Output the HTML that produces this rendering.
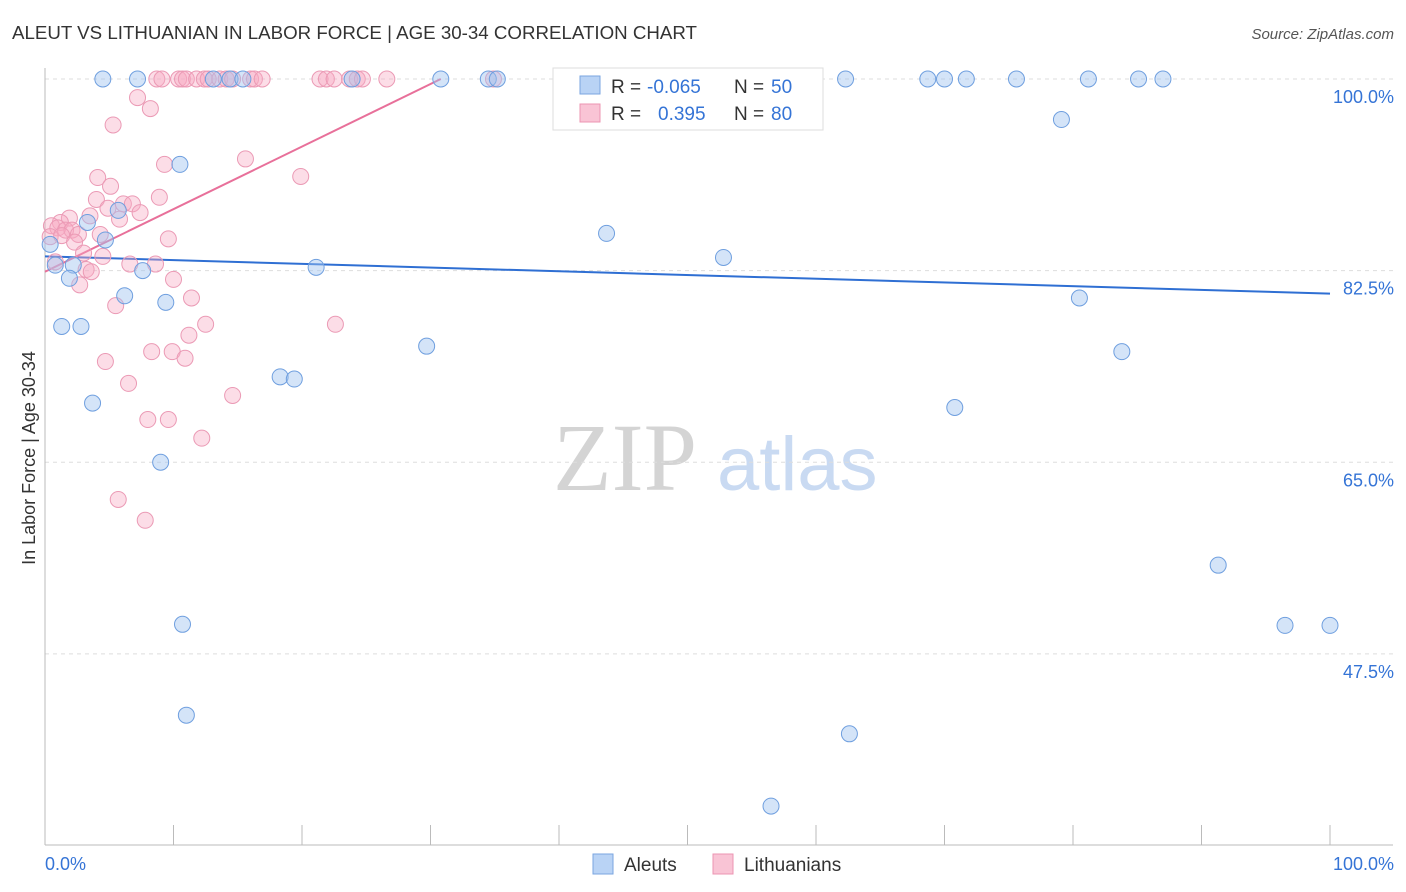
<!DOCTYPE html>
<html><head><meta charset="utf-8"><style>
body{margin:0;background:#fff;font-family:"Liberation Sans",sans-serif}
svg{display:block}
</style></head><body>
<svg id="chart" width="1406" height="892" font-family="Liberation Sans, sans-serif">
<text x="12" y="39" font-size="18" fill="#333" textLength="685" lengthAdjust="spacingAndGlyphs">ALEUT VS LITHUANIAN IN LABOR FORCE | AGE 30-34 CORRELATION CHART</text>
<text x="1394" y="39" font-size="15" fill="#555" text-anchor="end" font-style="italic">Source: ZipAtlas.com</text>
<g>
<text x="553" y="490" font-size="96" fill="#d4d4d4" font-family="Liberation Serif, serif">ZIP</text>
<text x="717" y="490" font-size="76" fill="#c9daf2">atlas</text>
</g>
<g id="grid"></g>
<g id="axes"></g>
<g id="trends"></g>
<g id="pts"></g>
<text x="35" y="458" font-size="18" fill="#333" text-anchor="middle" transform="rotate(-90 35 458)">In Labor Force | Age 30-34</text>
<g>
<rect x="553" y="68" width="270" height="62" fill="#fff" stroke="#ddd"/>
<rect x="580" y="76" width="20" height="18" fill="#b9d3f5" stroke="#7aa6e0"/>
<rect x="580" y="104" width="20" height="18" fill="#f9c4d5" stroke="#ec94b2"/>
<text x="611" y="93" font-size="19" fill="#333">R = <tspan fill="#3574d6" x="647">-0.065</tspan></text>
<text x="734" y="93" font-size="19" fill="#333">N = <tspan fill="#3574d6" x="771">50</tspan></text>
<text x="611" y="120" font-size="19" fill="#333">R = <tspan fill="#3574d6" x="658">0.395</tspan></text>
<text x="734" y="120" font-size="19" fill="#333">N = <tspan fill="#3574d6" x="771">80</tspan></text>
</g>
<g>
<rect x="593" y="854" width="20" height="20" fill="#b9d3f5" stroke="#7aa6e0"/>
<text x="624" y="871" font-size="19" fill="#333">Aleuts</text>
<rect x="713" y="854" width="20" height="20" fill="#f9c4d5" stroke="#ec94b2"/>
<text x="744" y="871" font-size="19" fill="#333">Lithuanians</text>
</g>
</svg>
<script>
const yTicks=[100,82.5,65,47.5];
const yTickLabels=["100.0%","82.5%","65.0%","47.5%"];
const xTickLabels=["0.0%","100.0%"];
const aleutX=[4.5,7.2,13.1,14.4,15.4,23.9,30.8,34.5,35.2,47.2,62.3,68.7,70.0,71.7,75.6,81.2,85.1,87.0,79.1,10.5,5.7,3.3,4.7,0.4,43.7,52.8,0.8,2.2,7.6,21.1,1.9,6.2,9.4,80.5,1.3,2.8,29.7,83.8,18.3,19.4,3.7,70.8,9.0,91.3,10.7,96.5,100,11.0,62.6,56.5];
const aleutY=[100,100,100,100,100,100,100,100,100,100,100,100,100,100,100,100,100,100,96.3,92.2,88.0,86.9,85.3,84.9,85.9,83.7,83.0,83.0,82.5,82.8,81.8,80.2,79.6,80.0,77.4,77.4,75.6,75.1,72.8,72.6,70.4,70.0,65.0,55.6,50.2,50.1,50.1,41.9,40.2,33.6];
const lithX=[8.7,9.1,10.4,10.7,11.0,11.8,12.4,12.7,13.6,14.1,14.6,16.0,16.3,16.9,21.4,21.9,22.5,23.7,24.3,24.7,26.6,34.9,7.2,8.2,5.3,9.3,15.6,19.9,4.1,5.1,4.0,8.9,4.9,6.1,6.8,7.4,5.8,3.5,1.9,1.2,0.5,1.0,1.6,2.1,2.6,0.4,1.3,4.3,2.3,9.6,3.0,4.5,0.8,6.6,8.6,3.2,3.6,10.0,2.7,11.4,5.5,12.5,22.6,11.2,8.3,9.9,10.9,4.7,6.5,14.6,8.0,9.6,12.2,5.7,7.8];
const lithY=[100,100,100,100,100,100,100,100,100,100,100,100,100,100,100,100,100,100,100,100,100,100,98.3,97.3,95.8,92.2,92.7,91.1,91.0,90.2,89.0,89.2,88.2,88.6,88.6,87.8,87.2,87.5,87.3,86.9,86.6,86.4,86.2,86.2,85.8,85.6,85.7,85.8,85.1,85.4,84.1,83.8,83.3,83.1,83.1,82.6,82.4,81.7,81.2,80.0,79.3,77.6,77.6,76.6,75.1,75.1,74.5,74.2,72.2,71.1,68.9,68.9,67.2,61.6,59.7];
const aleutTrendX=[0,100], aleutTrendY=[83.8,80.4];
const lithTrendX=[0,30.8], lithTrendY=[82.4,100];
const NS="http://www.w3.org/2000/svg";
const X=v=>45+v*12.85, Y=v=>79+(100-v)*10.95;
function mk(p,tag,at){const e=document.createElementNS(NS,tag);for(const k in at)e.setAttribute(k,at[k]);p.appendChild(e);return e;}
const grid=document.getElementById('grid'),axes=document.getElementById('axes');
yTicks.forEach((t,i)=>{
 const l=mk(grid,'line',{x1:45,x2:1393,y1:Y(t),y2:Y(t),stroke:'#ddd','stroke-dasharray':'4,4'});
 
 
 const tx=mk(axes,'text',{x:1394,y:Y(t)+24,'font-size':18,fill:'#3574d6','text-anchor':'end'});
 tx.textContent=yTickLabels[i];
 
 
});
mk(axes,'line',{x1:45,x2:45,y1:68,y2:845,stroke:'#bbb'});
mk(axes,'line',{x1:45,x2:1393,y1:845,y2:845,stroke:'#bbb'});
for(let i=0;i<=10;i++){const tk=mk(axes,'line',{x1:X(i*10),x2:X(i*10),y1:825,y2:845,stroke:'#bbb'});
 
 }
const xl0=mk(axes,'text',{x:45,y:870,'font-size':18,fill:'#3574d6'});xl0.textContent=xTickLabels[0];

const xl1=mk(axes,'text',{x:1394,y:870,'font-size':18,fill:'#3574d6','text-anchor':'end'});xl1.textContent=xTickLabels[1];

const pts=document.getElementById('pts');
lithX.forEach((v,i)=>{const c=mk(pts,'circle',{cx:X(v),cy:Y(lithY[i]),r:8,fill:'rgba(247,170,196,0.4)',stroke:'#eb9ab5','stroke-width':1});
 
 });
aleutX.forEach((v,i)=>{const c=mk(pts,'circle',{cx:X(v),cy:Y(aleutY[i]),r:8,fill:'rgba(160,195,240,0.45)',stroke:'#6f9fdf','stroke-width':1});
 
 });
const tr=document.getElementById('trends');
const bl=mk(tr,'line',{x1:X(aleutTrendX[0]),y1:Y(aleutTrendY[0]),x2:X(aleutTrendX[1]),y2:Y(aleutTrendY[1]),stroke:'#2f6fd3','stroke-width':2});


const pl=mk(tr,'line',{x1:X(lithTrendX[0]),y1:Y(lithTrendY[0]),x2:X(lithTrendX[1]),y2:Y(lithTrendY[1]),stroke:'#e8709a','stroke-width':2});


</script>
</body></html>
